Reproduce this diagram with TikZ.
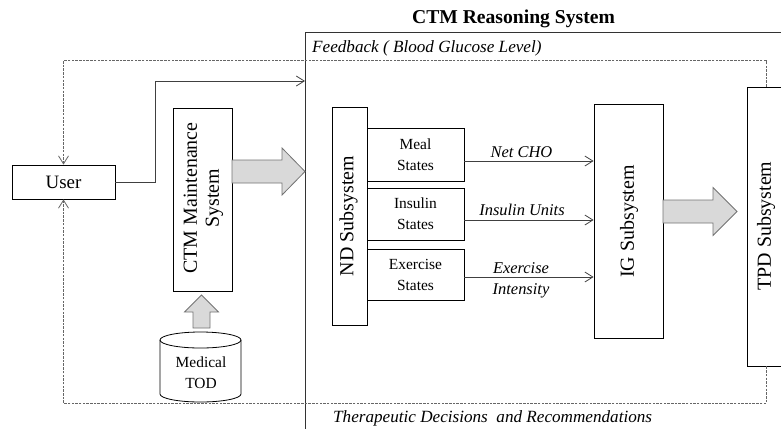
\documentclass[tikz,border=0pt]{standalone}
\usepackage{fontspec}
\setmainfont{Liberation Serif}
\usetikzlibrary{arrows.meta,calc}
\newcommand\fatright[6]{\draw[fat] (#1,#2-#5) -- (#3,#2-#5) -- (#3,#2-#6) -- (#4,#2) -- (#3,#2+#6) -- (#3,#2+#5) -- (#1,#2+#5) -- cycle;}
\begin{document}
\begin{tikzpicture}[x=1bp,y=-1bp,
  box/.style={draw=black, line width=0.8bp, inner sep=0pt, align=center},
  big/.style={font=\fontsize{20}{22}\selectfont, inner sep=0pt, align=center},
  small/.style={font=\fontsize{15.5}{21}\selectfont},
  lbl/.style={font=\fontsize{16.5}{21}\selectfont\itshape, inner sep=0pt, align=center},
  lblbig/.style={font=\fontsize{17.2}{21}\selectfont\itshape, inner sep=0pt},
  con/.style={draw=black!75, line width=0.8bp, -{Straight Barb[length=8bp,width=10bp]}},
  fb/.style={draw=black!60, line width=0.8bp, dash pattern=on 2.5bp off 1.2bp, -{Straight Barb[length=8bp,width=10bp]}},
  fat/.style={fill=black!15, draw=black!55, line width=0.8bp, line join=miter}
]
\useasboundingbox (0,0) rectangle (781,428);
\clip (0,0) rectangle (781,428);
% title
\node[font=\fontsize{19.7}{22}\selectfont\bfseries, inner sep=0pt, anchor=base] (title) at (513.5,23) {CTM Reasoning System};
% reasoning system container
\node[draw=black!80, line width=0.8bp, anchor=north west, minimum width=495bp, minimum height=408bp, inner sep=0pt] (rs) at (305,32) {};
\node[lblbig, anchor=base west] (fbtext) at (312,52) {Feedback ( Blood Glucose Level)};
\node[lblbig, anchor=base west] (tdtext) at (333,422) {Therapeutic Decisions\ \ and Recommendations};
% user
\node[box, minimum width=103bp, minimum height=34bp, font=\fontsize{19}{22}\selectfont] (user) at (63.5,182) {User};
% CTM maintenance
\node[box, minimum width=59bp, minimum height=183bp] (cmt) at (202.5,199.5) {};
\node[big, rotate=90] (cmttext) at (203.5,198) {CTM Maintenance\\System};
% medical TOD cylinder
\draw[line width=0.8bp] (160,340) -- (160,394) arc[start angle=180, end angle=0, x radius=40.5, y radius=8] -- (241,340);
\draw[line width=0.8bp] (200.5,340) ellipse [x radius=40.5, y radius=8];
\node[small, align=center, inner sep=0pt] (tod) at (201,373) {Medical\\TOD};
% ND subsystem
\node[box, minimum width=35bp, minimum height=218bp] (nd) at (349.5,216) {};
\node[big, rotate=90] (ndtext) at (348.5,216) {ND Subsystem};
\node[box, small, minimum width=97bp, minimum height=53bp] (meal) at (415.5,154.5) {Meal\\States};
\node[box, small, minimum width=97bp, minimum height=52bp] (ins) at (415.5,214) {Insulin\\States};
\node[box, small, minimum width=97bp, minimum height=51bp] (exe) at (415.5,274.5) {Exercise\\States};
% IG subsystem
\node[box, minimum width=69bp, minimum height=234bp] (ig) at (628.5,221) {};
\node[big, rotate=90] (igtext) at (629,221.5) {IG Subsystem};
% TPD subsystem
\node[box, minimum width=38bp, minimum height=279bp] (tpd) at (766,226.5) {};
\node[big, rotate=90] (tpdtext) at (766,226) {TPD Subsystem};
% arrows ND -> IG
\draw[con] ([yshift=-6.5bp]meal.east) -- ([yshift=-6.5bp]meal.east -| ig.west);
\draw[con] ([yshift=-6bp]ins.east) -- ([yshift=-6bp]ins.east -| ig.west);
\draw[con] ([yshift=-2.5bp]exe.east) -- ([yshift=-2.5bp]exe.east -| ig.west);
\node[lbl, anchor=base] (l1) at (521.5,157) {Net CHO};
\node[lbl, anchor=base] (l2) at (522,215) {Insulin Units};
\node[lbl] (l3) at (521,280) {Exercise\\Intensity};
% user -> reasoning system
\coordinate (rsin) at (305,81);
\draw[con] (user.east) -- ++(40,0) |- (rsin);
% feedback loops
\draw[fb] (tpd.north) -- ++(0,-26) -| (user.north);
\draw[fb] (tpd.south) -- ++(0,37) -| (user.south);
% fat arrows
\fatright{232}{171.5}{282}{305}{11.5}{23.5}
\fatright{663}{211.5}{713}{737}{11.5}{24}
\draw[fat] (193,328) -- (193,312) -- (184.5,312) -- (201.5,295) -- (218.5,312) -- (210,312) -- (210,328) -- cycle;
\end{tikzpicture}
\end{document}
